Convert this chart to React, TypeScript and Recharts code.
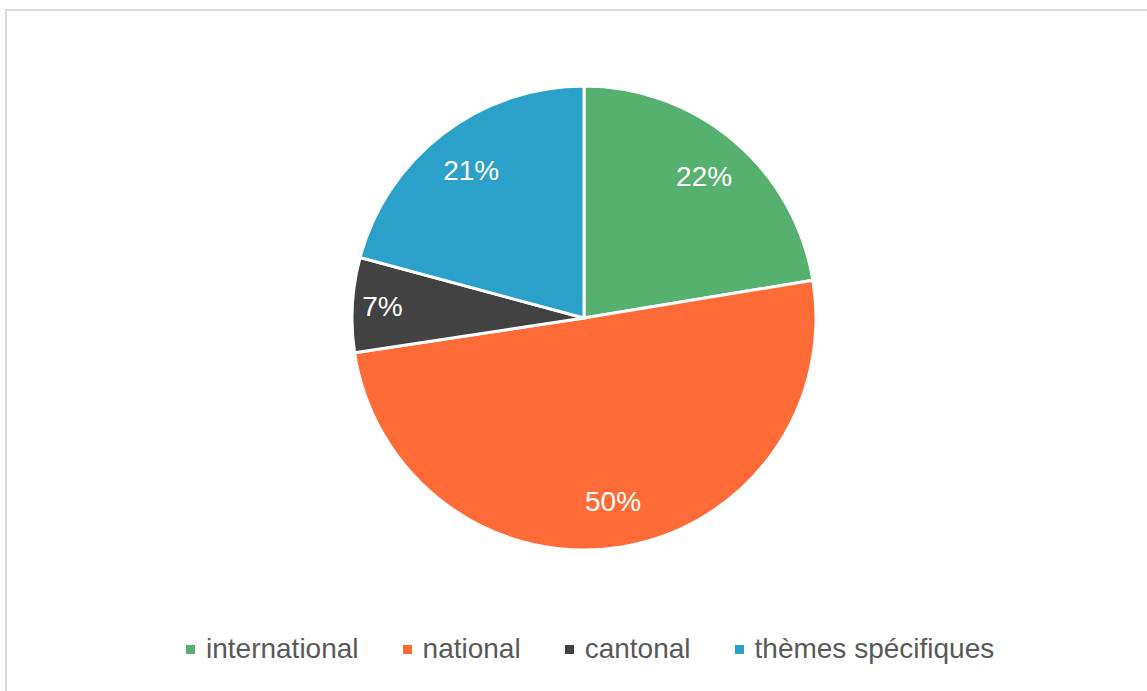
import React from "react";
import { PieChart, Pie, Cell, Legend } from "recharts";

const categories = ["international", "national", "cantonal", "thèmes spécifiques"];
const shares = [22.4, 50.2, 6.6, 20.8];
const colors = ["#56b16f", "#ff6b36", "#424242", "#2ba1c9"];

const data = categories.map((name, i) => ({ name, value: shares[i] }));

const RAD = Math.PI / 180;
const FONT = "'Liberation Sans', Arial, sans-serif";

const renderLabel = (props: any) => {
  const { cx, cy, midAngle, outerRadius, percent } = props;
  const r = outerRadius * (percent < 0.1 ? 0.87 : 0.8);
  const x = cx + r * Math.cos(-midAngle * RAD);
  const y = cy + r * Math.sin(-midAngle * RAD);
  return (
    <text
      x={x}
      y={y}
      fill="#ffffff"
      textAnchor="middle"
      dominantBaseline="central"
      fontSize={28}
      fontFamily={FONT}
    >
      {`${Math.round(percent * 100)}%`}
    </text>
  );
};

const LegendContent = () => (
  <div
    style={{
      display: "flex",
      justifyContent: "flex-start",
      alignItems: "center",
      gap: 44,
      paddingLeft: 186,
      fontFamily: FONT,
      fontSize: 28,
      color: "#595959",
    }}
  >
    {categories.map((c, i) => (
      <div key={c} style={{ display: "flex", alignItems: "center" }}>
        <span
          style={{
            display: "inline-block",
            width: 9,
            height: 9,
            background: colors[i],
            marginRight: 11,
          }}
        />
        <span>{c}</span>
      </div>
    ))}
  </div>
);

export default function App() {
  return (
    <div
      style={{
        position: "absolute",
        left: 0,
        top: 0,
        width: 1147,
        height: 691,
        background: "#ffffff",
        overflow: "hidden",
      }}
    >
      <div
        style={{
          position: "absolute",
          left: 5,
          top: 9,
          width: 1300,
          height: 684,
          border: "2px solid #d9d9d9",
          boxSizing: "border-box",
        }}
      />
      <PieChart
        width={1147}
        height={691}
        margin={{ top: 0, right: 0, bottom: 0, left: 0 }}
        style={{ position: "absolute", left: 0, top: 0 }}
      >
        <Pie
          data={data}
          dataKey="value"
          nameKey="name"
          cx={584}
          cy={318}
          outerRadius={232}
          startAngle={90}
          endAngle={-270}
          stroke="#ffffff"
          strokeWidth={3}
          label={renderLabel}
          labelLine={false}
          isAnimationActive={false}
        >
          {data.map((d, i) => (
            <Cell key={d.name} fill={colors[i]} />
          ))}
        </Pie>
        <Legend
          content={<LegendContent />}
          wrapperStyle={{ position: "absolute", top: 633, left: 0, width: 1147 }}
        />
      </PieChart>
    </div>
  );
}
